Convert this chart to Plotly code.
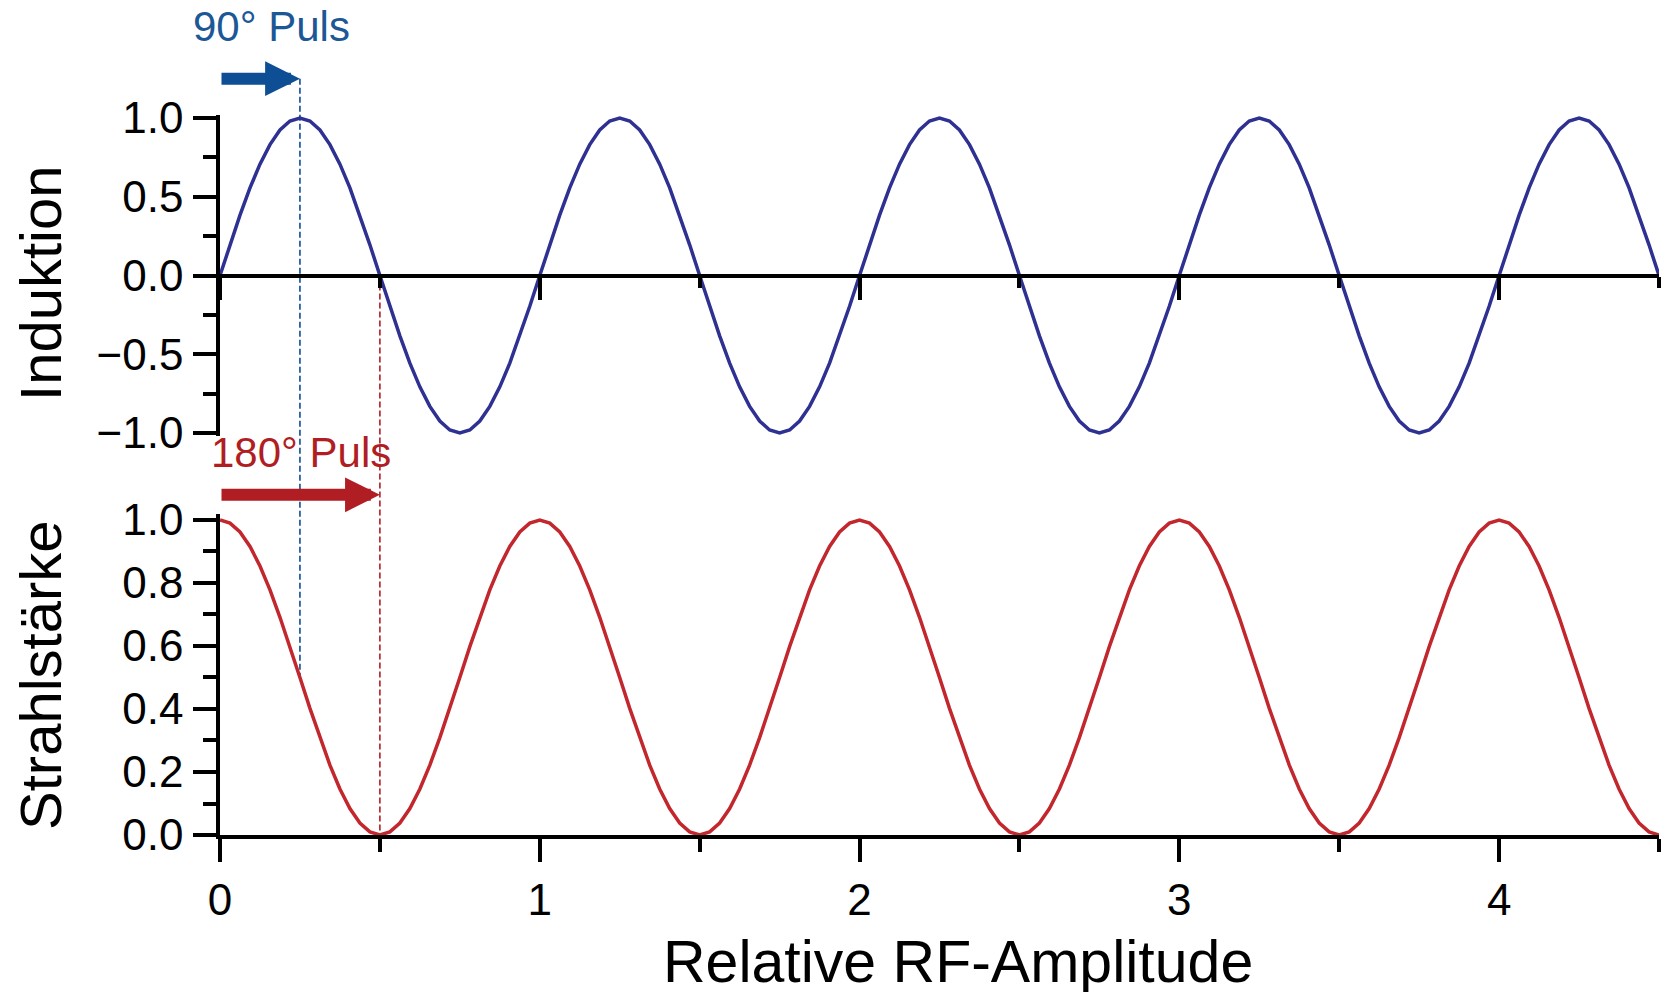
import plotly.graph_objects as go

# ---------------- data ----------------
amplitude = [
    0.0, 0.03125, 0.0625, 0.09375, 0.125, 0.15625, 0.1875, 0.21875,
    0.25, 0.28125, 0.3125, 0.34375, 0.375, 0.40625, 0.4375, 0.46875,
    0.5, 0.53125, 0.5625, 0.59375, 0.625, 0.65625, 0.6875, 0.71875,
    0.75, 0.78125, 0.8125, 0.84375, 0.875, 0.90625, 0.9375, 0.96875,
    1.0, 1.03125, 1.0625, 1.09375, 1.125, 1.15625, 1.1875, 1.21875,
    1.25, 1.28125, 1.3125, 1.34375, 1.375, 1.40625, 1.4375, 1.46875,
    1.5, 1.53125, 1.5625, 1.59375, 1.625, 1.65625, 1.6875, 1.71875,
    1.75, 1.78125, 1.8125, 1.84375, 1.875, 1.90625, 1.9375, 1.96875,
    2.0, 2.03125, 2.0625, 2.09375, 2.125, 2.15625, 2.1875, 2.21875,
    2.25, 2.28125, 2.3125, 2.34375, 2.375, 2.40625, 2.4375, 2.46875,
    2.5, 2.53125, 2.5625, 2.59375, 2.625, 2.65625, 2.6875, 2.71875,
    2.75, 2.78125, 2.8125, 2.84375, 2.875, 2.90625, 2.9375, 2.96875,
    3.0, 3.03125, 3.0625, 3.09375, 3.125, 3.15625, 3.1875, 3.21875,
    3.25, 3.28125, 3.3125, 3.34375, 3.375, 3.40625, 3.4375, 3.46875,
    3.5, 3.53125, 3.5625, 3.59375, 3.625, 3.65625, 3.6875, 3.71875,
    3.75, 3.78125, 3.8125, 3.84375, 3.875, 3.90625, 3.9375, 3.96875,
    4.0, 4.03125, 4.0625, 4.09375, 4.125, 4.15625, 4.1875, 4.21875,
    4.25, 4.28125, 4.3125, 4.34375, 4.375, 4.40625, 4.4375, 4.46875,
    4.5,
]

induktion = [
    0.0, 0.195, 0.383, 0.556, 0.707, 0.831, 0.924, 0.981, 1.0, 0.981, 0.924, 0.831, 0.707, 0.556, 0.383, 0.195,
    0.0, -0.195, -0.383, -0.556, -0.707, -0.831, -0.924, -0.981, -1.0, -0.981, -0.924, -0.831, -0.707, -0.556, -0.383, -0.195,
    0.0, 0.195, 0.383, 0.556, 0.707, 0.831, 0.924, 0.981, 1.0, 0.981, 0.924, 0.831, 0.707, 0.556, 0.383, 0.195,
    0.0, -0.195, -0.383, -0.556, -0.707, -0.831, -0.924, -0.981, -1.0, -0.981, -0.924, -0.831, -0.707, -0.556, -0.383, -0.195,
    0.0, 0.195, 0.383, 0.556, 0.707, 0.831, 0.924, 0.981, 1.0, 0.981, 0.924, 0.831, 0.707, 0.556, 0.383, 0.195,
    0.0, -0.195, -0.383, -0.556, -0.707, -0.831, -0.924, -0.981, -1.0, -0.981, -0.924, -0.831, -0.707, -0.556, -0.383, -0.195,
    0.0, 0.195, 0.383, 0.556, 0.707, 0.831, 0.924, 0.981, 1.0, 0.981, 0.924, 0.831, 0.707, 0.556, 0.383, 0.195,
    0.0, -0.195, -0.383, -0.556, -0.707, -0.831, -0.924, -0.981, -1.0, -0.981, -0.924, -0.831, -0.707, -0.556, -0.383, -0.195,
    0.0, 0.195, 0.383, 0.556, 0.707, 0.831, 0.924, 0.981, 1.0, 0.981, 0.924, 0.831, 0.707, 0.556, 0.383, 0.195,
    0.0,
]

strahlstaerke = [
    1.0, 0.990, 0.962, 0.916, 0.854, 0.778, 0.691, 0.598, 0.5, 0.402, 0.309, 0.222, 0.146, 0.084, 0.038, 0.010,
    0.0, 0.010, 0.038, 0.084, 0.146, 0.222, 0.309, 0.402, 0.5, 0.598, 0.691, 0.778, 0.854, 0.916, 0.962, 0.990,
    1.0, 0.990, 0.962, 0.916, 0.854, 0.778, 0.691, 0.598, 0.5, 0.402, 0.309, 0.222, 0.146, 0.084, 0.038, 0.010,
    0.0, 0.010, 0.038, 0.084, 0.146, 0.222, 0.309, 0.402, 0.5, 0.598, 0.691, 0.778, 0.854, 0.916, 0.962, 0.990,
    1.0, 0.990, 0.962, 0.916, 0.854, 0.778, 0.691, 0.598, 0.5, 0.402, 0.309, 0.222, 0.146, 0.084, 0.038, 0.010,
    0.0, 0.010, 0.038, 0.084, 0.146, 0.222, 0.309, 0.402, 0.5, 0.598, 0.691, 0.778, 0.854, 0.916, 0.962, 0.990,
    1.0, 0.990, 0.962, 0.916, 0.854, 0.778, 0.691, 0.598, 0.5, 0.402, 0.309, 0.222, 0.146, 0.084, 0.038, 0.010,
    0.0, 0.010, 0.038, 0.084, 0.146, 0.222, 0.309, 0.402, 0.5, 0.598, 0.691, 0.778, 0.854, 0.916, 0.962, 0.990,
    1.0, 0.990, 0.962, 0.916, 0.854, 0.778, 0.691, 0.598, 0.5, 0.402, 0.309, 0.222, 0.146, 0.084, 0.038, 0.010,
    0.0,
]

top_ticks = [-1.0, -0.5, 0.0, 0.5, 1.0]
bottom_ticks = [0.0, 0.2, 0.4, 0.6, 0.8, 1.0]
x_ticks = [0, 1, 2, 3, 4]

pulse90_x = 0.25      # 90° pulse position
pulse90_y = 1.25      # arrow height (top-panel units)
pulse90_bottom = 0.5  # where the dashed line ends (bottom-panel units)
pulse180_x = 0.5      # 180° pulse position
pulse180_y = 1.08     # arrow height (bottom-panel units)

x_title = "Relative RF-Amplitude"
top_title = "Induktion"
bottom_title = "Strahlstärke"
label90 = "90° Puls"
label180 = "180° Puls"

# ---------------- style ----------------
FONT = "Liberation Sans, Arial, sans-serif"
BLUE_CURVE = "#2e3192"
RED_CURVE = "#c1272d"
BLUE_NOTE = "#0d4e94"
RED_NOTE = "#b01e23"
AXW = 3.5

W, H = 1661, 992
ML, MR, MT, MB = 220, 2, 110, 157
PLOT_W = W - ML - MR

x_rng = [0.0, 4.5]
top_rng = [-1.02, 1.02]
bot_rng = [0.0, 1.02]
top_dom = [0.5501, 0.9933]
bot_dom = [0.0, 0.4432]


def paper_y(v, dom, rng):
    return dom[0] + (v - rng[0]) / (rng[1] - rng[0]) * (dom[1] - dom[0])


def x_px(v):
    return (v - x_rng[0]) / (x_rng[1] - x_rng[0]) * PLOT_W


fig = go.Figure()
fig.add_trace(go.Scatter(x=amplitude, y=induktion, mode="lines",
                         line=dict(color=BLUE_CURVE, width=3.5),
                         xaxis="x", yaxis="y", showlegend=False))
fig.add_trace(go.Scatter(x=amplitude, y=strahlstaerke, mode="lines",
                         line=dict(color=RED_CURVE, width=3.5),
                         xaxis="x2", yaxis="y2", showlegend=False))

axis_common = dict(showline=True, linecolor="black", linewidth=AXW,
                   ticks="outside", tickcolor="black", tickwidth=AXW,
                   showgrid=False, zeroline=False, automargin=False,
                   tickfont=dict(family=FONT, size=44, color="black"))

fig.update_layout(
    width=W, height=H,
    margin=dict(l=ML, r=MR, t=MT, b=MB, autoexpand=False),
    paper_bgcolor="white", plot_bgcolor="white",
    xaxis=dict(domain=[0, 1], range=x_rng, anchor="free",
               position=paper_y(0, top_dom, top_rng),
               tickvals=x_ticks, showticklabels=False, ticklen=23,
               minor=dict(dtick=0.5, tick0=0, ticklen=11, tickwidth=AXW,
                          tickcolor="black", ticks="outside"),
               **axis_common),
    yaxis=dict(domain=top_dom, range=top_rng, anchor="x",
               tickvals=top_ticks, tickformat=".1f", ticklen=23,
               ticklabelstandoff=1,
               minor=dict(dtick=0.25, tick0=0, ticklen=13, tickwidth=AXW,
                          tickcolor="black", ticks="outside"),
               **axis_common),
    xaxis2=dict(domain=[0, 1], range=x_rng, anchor="y2",
                tickvals=x_ticks, ticklen=23, ticklabelstandoff=0,
                minor=dict(dtick=0.5, tick0=0, ticklen=13, tickwidth=AXW,
                           tickcolor="black", ticks="outside"),
                **axis_common),
    yaxis2=dict(domain=bot_dom, range=bot_rng, anchor="x2",
                tickvals=bottom_ticks, tickformat=".1f", ticklen=23,
                ticklabelstandoff=1,
                minor=dict(dtick=0.1, tick0=0, ticklen=13, tickwidth=AXW,
                           tickcolor="black", ticks="outside"),
                **axis_common),
)

# dashed guide lines
fig.add_shape(type="line", xref="x", yref="paper",
              x0=pulse90_x, x1=pulse90_x,
              y0=paper_y(pulse90_y, top_dom, top_rng),
              y1=paper_y(pulse90_bottom, bot_dom, bot_rng),
              line=dict(color=BLUE_NOTE, width=1.6, dash="6px,3px"), layer="below")
fig.add_shape(type="line", xref="x", yref="paper",
              x0=pulse180_x, x1=pulse180_x,
              y0=paper_y(0, top_dom, top_rng),
              y1=paper_y(0, bot_dom, bot_rng),
              line=dict(color=RED_NOTE, width=1.6, dash="6px,3px"), layer="below")

# arrows (from x = 0 to the pulse position)
fig.add_annotation(x=pulse90_x, y=paper_y(pulse90_y, top_dom, top_rng),
                   xref="x", yref="paper",
                   ax=-x_px(pulse90_x), ay=0, axref="pixel", ayref="pixel",
                   text="", showarrow=True, arrowhead=2, arrowsize=0.58,
                   arrowwidth=12, arrowcolor=BLUE_NOTE)
fig.add_annotation(x=pulse180_x, y=paper_y(pulse180_y, bot_dom, bot_rng),
                   xref="x", yref="paper",
                   ax=-x_px(pulse180_x), ay=0, axref="pixel", ayref="pixel",
                   text="", showarrow=True, arrowhead=2, arrowsize=0.58,
                   arrowwidth=12, arrowcolor=RED_NOTE)

# pulse labels
fig.add_annotation(x=0.16, y=1.1145, xref="x", yref="paper", text=label90,
                   showarrow=False, xanchor="center", yanchor="middle",
                   font=dict(family=FONT, size=42, color="#1c5796"))
fig.add_annotation(x=0.253, y=0.5269, xref="x", yref="paper", text=label180,
                   showarrow=False, xanchor="center", yanchor="middle",
                   font=dict(family=FONT, size=42, color=RED_NOTE))

# axis titles
fig.add_annotation(x=-0.1244, y=0.7614, xref="paper", yref="paper", text=top_title,
                   textangle=-90, showarrow=False, xanchor="center", yanchor="middle",
                   font=dict(family=FONT, size=58, color="black"))
fig.add_annotation(x=-0.1244, y=0.2207, xref="paper", yref="paper", text=bottom_title,
                   textangle=-90, showarrow=False, xanchor="center", yanchor="middle",
                   font=dict(family=FONT, size=58, color="black"))
fig.add_annotation(x=0.5129, y=-0.1752, xref="paper", yref="paper", text=x_title,
                   showarrow=False, xanchor="center", yanchor="middle",
                   font=dict(family=FONT, size=59, color="black"))

fig.write_html("out.html",
               config={"displayModeBar": False},
               post_script="document.body.style.margin='0';document.body.style.padding='0';"
                           "document.body.style.overflow='hidden';")
